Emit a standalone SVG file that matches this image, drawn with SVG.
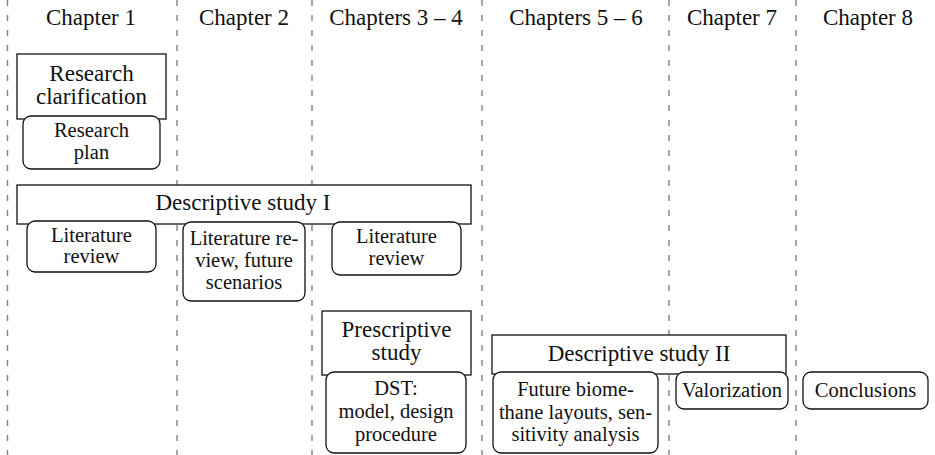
<svg xmlns="http://www.w3.org/2000/svg" width="935" height="455" viewBox="0 0 935 455">
<style>
.sep{stroke:#808080;stroke-width:1.4;stroke-dasharray:6 9;fill:none}
.title{fill:#fff;stroke:#111;stroke-width:1.3}
.task{fill:#fff;stroke:#111;stroke-width:1.3}
text{font-family:'Liberation Serif',serif;fill:#111;text-anchor:middle}
.h{font-size:23px}
.t{font-size:23px}
.s{font-size:20.5px}
</style>
<rect width="935" height="455" fill="#fff"/>
<g id="columns">
<line class="sep" x1="7.5" y1="0" x2="7.5" y2="455"/>
<line class="sep" x1="177" y1="0" x2="177" y2="455"/>
<line class="sep" x1="312" y1="0" x2="312" y2="455"/>
<line class="sep" x1="482" y1="0" x2="482" y2="455"/>
<line class="sep" x1="669" y1="0" x2="669" y2="455"/>
<line class="sep" x1="796" y1="0" x2="796" y2="455"/>
</g>
<g id="headers">
<text class="h" x="91" y="25">Chapter 1</text>
<text class="h" x="244" y="25">Chapter 2</text>
<text class="h" x="396" y="25">Chapters 3 – 4</text>
<text class="h" x="576" y="25">Chapters 5 – 6</text>
<text class="h" x="732" y="25">Chapter 7</text>
<text class="h" x="868" y="25">Chapter 8</text>
</g>
<g id="research-clarification">
<rect class="title" x="17" y="54" width="149" height="65"/>
<text class="t" x="91.5" y="81">Research</text>
<text class="t" x="91.5" y="104">clarification</text>
</g>
<g id="research-plan">
<rect class="task" x="23" y="116" width="137" height="53" rx="8"/>
<text class="s" x="91.5" y="137">Research</text>
<text class="s" x="91.5" y="159">plan</text>
</g>
<g id="descriptive-study-1">
<rect class="title" x="17" y="185" width="454" height="39"/>
<text class="t" x="243" y="210">Descriptive study I</text>
</g>
<g id="literature-review-1">
<rect class="task" x="27" y="221" width="129" height="51" rx="8"/>
<text class="s" x="91.5" y="242">Literature</text>
<text class="s" x="91.5" y="263">review</text>
</g>
<g id="literature-review-2">
<rect class="task" x="183" y="222" width="122" height="79" rx="8"/>
<text class="s" x="244" y="245">Literature re-</text>
<text class="s" x="244" y="267">view, future</text>
<text class="s" x="244" y="289">scenarios</text>
</g>
<g id="literature-review-3">
<rect class="task" x="332" y="222" width="129" height="53" rx="8"/>
<text class="s" x="396.5" y="243">Literature</text>
<text class="s" x="396.5" y="265">review</text>
</g>
<g id="prescriptive-study">
<rect class="title" x="322" y="311" width="149" height="64"/>
<text class="t" x="396.5" y="337">Prescriptive</text>
<text class="t" x="396.5" y="360">study</text>
</g>
<g id="dst">
<rect class="task" x="326" y="372" width="140" height="81" rx="8"/>
<text class="s" x="396" y="395">DST:</text>
<text class="s" x="396" y="418">model, design</text>
<text class="s" x="396" y="441">procedure</text>
</g>
<g id="descriptive-study-2">
<rect class="title" x="492" y="335" width="294" height="39"/>
<text class="t" x="639" y="361">Descriptive study II</text>
</g>
<g id="future-layouts">
<rect class="task" x="493" y="372" width="165" height="81" rx="8"/>
<text class="s" x="575.5" y="396">Future biome-</text>
<text class="s" x="575.5" y="419">thane layouts, sen-</text>
<text class="s" x="575.5" y="441">sitivity analysis</text>
</g>
<g id="valorization">
<rect class="task" x="676" y="372" width="112" height="37" rx="8"/>
<text class="s" x="732" y="397">Valorization</text>
</g>
<g id="conclusions">
<rect class="task" x="803" y="372" width="125" height="37" rx="8"/>
<text class="s" x="865.5" y="397">Conclusions</text>
</g>
</svg>
